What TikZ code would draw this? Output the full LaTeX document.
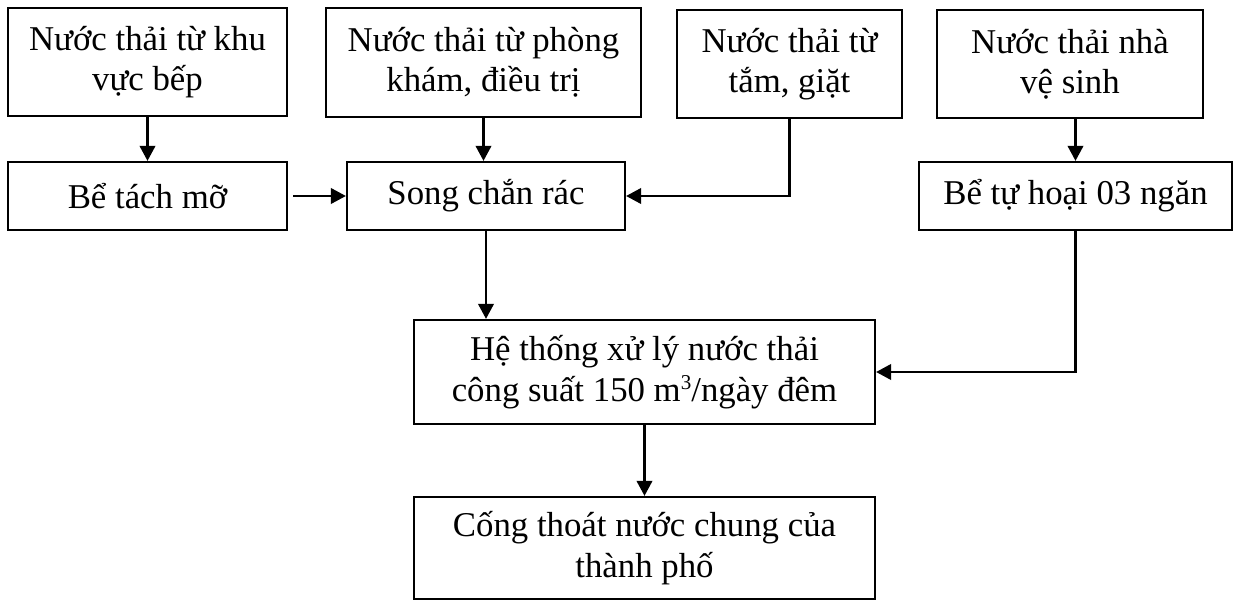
\documentclass[tikz,border=0pt]{standalone}
\usepackage{fontspec}
\setmainfont{Liberation Serif}
\usetikzlibrary{arrows.meta}
\newcommand{\somu}[1]{\raisebox{0.75ex}{\fontsize{12}{12}\selectfont #1}}
\tikzset{
  %Define standard arrow tip
  >={Triangle[length=0.3cm,width=0.31cm]},
  %Define style for boxes
  khoi/.style={
    rectangle,
    draw=black, line width=1.3pt,
    inner sep=0pt,
    align=center,
    font=\fontsize{19.8}{23}\selectfont},
  % Define arrow style
  muiten/.style={
    ->,
    line width=1.3pt}
}

\begin{document}
\begin{tikzpicture}[x=0.02cm,y=-0.02cm]
  \useasboundingbox (0,0) rectangle (1235,601);
  % nguon nuoc thai
  \node[khoi,minimum width=5.58cm,minimum height=2.16cm] (bep) at (147.5,62) {Nước thải từ khu\\vực bếp};
  \node[khoi,minimum width=6.30cm,minimum height=2.18cm] (kham) at (483.5,62.5) {Nước thải từ phòng\\khám, điều trị};
  \node[khoi,minimum width=4.50cm,minimum height=2.16cm] (tam) at (789.5,64) {Nước thải từ\\tắm, giặt};
  \node[khoi,minimum width=5.32cm,minimum height=2.16cm] (wc) at (1070,64) {Nước thải nhà\\vệ sinh};
  % xu ly so bo
  \node[khoi,minimum width=5.58cm,minimum height=1.36cm] (tachmo) at (147.5,196) {Bể tách mỡ};
  \node[khoi,minimum width=5.56cm,minimum height=1.36cm] (song) at (486,196) {Song chắn rác};
  \node[khoi,minimum width=6.26cm,minimum height=1.36cm] (tuhoai) at (1075.5,196) {Bể tự hoại 03 ngăn};
  % he thong xu ly va noi xa
  \node[khoi,minimum width=9.22cm,minimum height=2.08cm] (xuly) at (644.5,372) {Hệ thống xử lý nước thải\\công suất 150 m\somu{3}/ngày đêm};
  \node[khoi,minimum width=9.22cm,minimum height=2.04cm] (cong) at (644.5,548) {Cống thoát nước chung của\\thành phố};

  \draw[muiten] (bep) -- (tachmo);
  \draw[muiten] (kham.south) -- (kham.south |- song.north);
  \draw[muiten,shorten <=0.1cm] (tachmo) -- (song);
  \draw[muiten] (tam.south) |- (song.east);
  \draw[muiten] (tuhoai.north |- wc.south) -- (tuhoai.north);
  \draw[muiten] (song.south) -- (song.south |- xuly.north);
  \draw[muiten] (tuhoai.south) |- (xuly.east);
  \draw[muiten] (xuly) -- (cong);
\end{tikzpicture}
\end{document}
